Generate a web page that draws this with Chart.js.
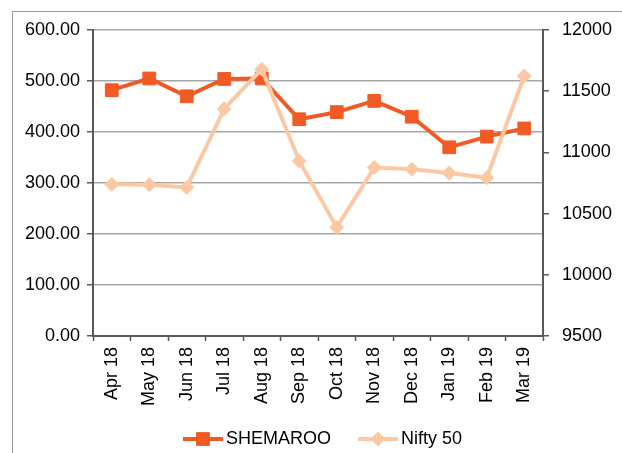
<!DOCTYPE html>
<html>
<head>
<meta charset="utf-8">
<script src="https://cdn.jsdelivr.net/npm/chart.js@4"></script>
<style>
  html, body { margin: 0; padding: 0; background: #fff; overflow: hidden; }
  #wrap { position: relative; width: 622px; height: 453px; }
  #frame { position: absolute; left: 12px; top: 11px; width: 700px; height: 500px;
           border-left: 1px solid #9a9a9a; border-top: 1px solid #9a9a9a; }
</style>
</head>
<body>
<div id="wrap">
  <div id="frame"></div>
  <canvas id="monthlyChart"></canvas>
</div>
<script>
const months = ['Apr 18', 'May 18', 'Jun 18', 'Jul 18', 'Aug 18', 'Sep 18',
                'Oct 18', 'Nov 18', 'Dec 18', 'Jan 19', 'Feb 19', 'Mar 19'];
const shemaroo = [482, 505, 470, 504, 505, 425, 439, 461, 430, 370, 391, 407];
const nifty = [10739, 10736, 10714, 11356, 11680, 10930, 10387, 10877, 10863, 10831, 10793, 11624];
const leftTicks = [0, 600, 100];
const rightTicks = [9500, 12000, 500];

const font = { family: '"Liberation Sans", Arial, sans-serif', size: 18 };

// legend drawn by hand so the marker sits on the line like in Excel
const lineLegend = {
    id: 'lineLegend',
    afterDraw(chart) {
        const ctx = chart.ctx;
        let x = 183;
        const y = 439;
        ctx.save();
        ctx.font = font.size + 'px ' + font.family;
        ctx.textBaseline = 'middle';
        chart.data.datasets.forEach(ds => {
            ctx.strokeStyle = ds.borderColor;
            ctx.lineWidth = 4;
            ctx.beginPath();
            ctx.moveTo(x, y);
            ctx.lineTo(x + 40, y);
            ctx.stroke();
            ctx.fillStyle = ds.pointBackgroundColor;
            ctx.lineWidth = 1;
            Chart.helpers.drawPoint(ctx, { pointStyle: ds.pointStyle, radius: ds.pointRadius, rotation: 0, borderWidth: 1 }, x + 20, y);
            ctx.fillStyle = '#000';
            ctx.fillText(ds.label, x + 43, y);
            x += 43 + ctx.measureText(ds.label).width + 27;
        });
        ctx.restore();
    }
};

new Chart(document.getElementById('monthlyChart'), {
    type: 'line',
    data: {
        labels: months,
        datasets: [
            {
                label: 'SHEMAROO',
                data: shemaroo,
                yAxisID: 'y',
                borderColor: '#F15A24',
                backgroundColor: '#F15A24',
                pointBackgroundColor: '#F15A24',
                pointBorderColor: '#F15A24',
                borderWidth: 4,
                pointStyle: 'rect',
                pointRadius: 9,
                pointBorderWidth: 1,
                tension: 0,
                order: 1
            },
            {
                label: 'Nifty 50',
                data: nifty,
                yAxisID: 'y1',
                borderColor: '#FCC8A4',
                backgroundColor: '#FCC8A4',
                pointBackgroundColor: '#FCC8A4',
                pointBorderColor: '#FCC8A4',
                borderWidth: 4,
                pointStyle: 'rectRot',
                pointRadius: 7,
                pointBorderWidth: 1,
                tension: 0,
                order: 0
            }
        ]
    },
    options: {
        responsive: true,
        maintainAspectRatio: false,
        animation: false,
        layout: { padding: { top: 30, left: 0, right: 0, bottom: 0 } },
        plugins: {
            legend: { display: false },
            tooltip: { enabled: false }
        },
        scales: {
            x: {
                offset: true,
                afterFit: s => { s.height = 117; },
                grid: { drawOnChartArea: false, drawTicks: true, tickLength: 5, tickColor: '#595959', tickWidth: 1.5, offset: true },
                border: { color: '#595959', width: 2 },
                ticks: { font, color: '#000', maxRotation: 90, minRotation: 90, padding: 6, autoSkip: false }
            },
            y: {
                position: 'left',
                min: leftTicks[0],
                max: leftTicks[1],
                afterFit: s => { s.width = 93; },
                grid: { color: '#a6a6a6', lineWidth: 1.5, tickColor: '#595959', tickLength: 6 },
                border: { color: '#595959', width: 2 },
                ticks: { font, color: '#000', stepSize: leftTicks[2], padding: 7, callback: v => v.toFixed(2) }
            },
            y1: {
                position: 'right',
                min: rightTicks[0],
                max: rightTicks[1],
                afterFit: s => { s.width = 79; },
                grid: { drawOnChartArea: false, tickColor: '#595959', tickLength: 6, lineWidth: 1.5 },
                border: { color: '#595959', width: 2 },
                ticks: { font, color: '#000', stepSize: rightTicks[2], padding: 13, callback: v => String(v) }
            }
        }
    },
    plugins: [lineLegend]
});
</script>
</body>
</html>
